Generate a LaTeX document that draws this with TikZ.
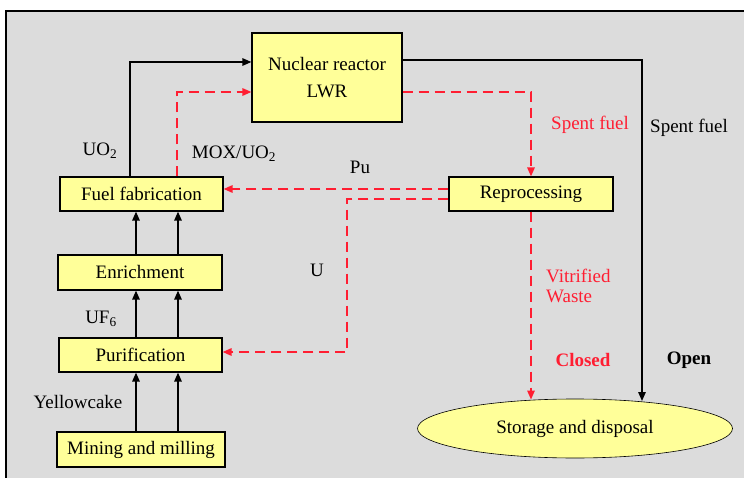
\documentclass[tikz,border=0pt]{standalone}
\usepackage{fontspec}
\setmainfont{Liberation Serif}
\usetikzlibrary{arrows.meta,shapes.geometric}
\definecolor{bg}{RGB}{220,220,220}
\definecolor{boxy}{RGB}{255,255,153}
\definecolor{rd}{RGB}{255,30,50}
\begin{document}
\begin{tikzpicture}[x=1pt,y=-1pt,
  font=\rmfamily\fontsize{19}{27}\selectfont,
  box/.style={draw=black,line width=1.2pt,fill=boxy,inner sep=0pt,align=center},
  tip/.style={-{Triangle[length=9pt,width=7.5pt]}},
  blk/.style={draw=black,line width=1.4pt,tip},
  rdd/.style={draw=rd,line width=1.5pt,dash pattern=on 10pt off 6pt,tip},
  lbl/.style={inner sep=0pt}]
\useasboundingbox (0,0) rectangle (744,478);
\fill[white] (0,0) rectangle (744,478);
\fill[bg] (6,11) rectangle (744,478);
\draw[line width=2.5pt] (6,478) -- (6,11) -- (744,11);

% boxes
\node[box,minimum width=150pt,minimum height=89pt] (reactor) at (327,77.5) {Nuclear reactor\\LWR};
\node[box,minimum width=163pt,minimum height=34pt] (fuelfab) at (141.5,194) {Fuel fabrication};
\node[box,minimum width=164pt,minimum height=35pt] (enrich) at (140,272.5) {Enrichment};
\node[box,minimum width=163pt,minimum height=34pt] (purif) at (140.5,355) {Purification};
\node[box,minimum width=168pt,minimum height=35pt] (mining) at (141,449.5) {Mining and milling};
\node[box,minimum width=164pt,minimum height=34pt] (reproc) at (531,194) {Reprocessing};
\node[draw=black,line width=0.6pt,fill=boxy,ellipse,inner sep=0pt,minimum width=315pt,minimum height=59pt] (store) at (575,428.5) {Storage and disposal};

% helper coordinates
\coordinate (a1) at (130,62);
\coordinate (a2) at (177,92);
\coordinate (b1) at (642,60);
\coordinate (b2) at (642,401);
\coordinate (c2) at (531,399.5);
\coordinate (pu) at (0,189);
\coordinate (u1) at (347,199);
\coordinate (u2) at (0,352);
\coordinate (l1) at (136,0);
\coordinate (l2) at (178,0);

% connectors
\draw[blk] (fuelfab.north -| a1) |- (reactor.west |- a1);
\draw[rdd] (fuelfab.north -| a2) |- (reactor.west |- a2);
\draw[blk] (reactor.east |- b1) -| (b2);
\draw[rdd] (reactor.east |- a2) -| (reproc.north);
\draw[rdd] (reproc.south) -- (c2);
\draw[rdd] (reproc.west |- pu) -- (fuelfab.east |- pu);
\draw[rdd] (reproc.west |- u1) -| (u1 |- u2) -- (purif.east |- u2);
\foreach \l in {l1,l2}{
  \draw[blk] (enrich.north -| \l) -- (fuelfab.south -| \l);
  \draw[blk] (purif.north -| \l) -- (enrich.south -| \l);
  \draw[blk] (mining.north -| \l) -- (purif.south -| \l);
}

% labels
\node[lbl] (tuo2) at (100,151) {UO\textsubscript{2}};
\node[lbl] (tmox) at (234,154) {MOX/UO\textsubscript{2}};
\node[lbl] (tuf6) at (101,319) {UF\textsubscript{6}};
\node[lbl] (tyel) at (78,402) {Yellowcake};
\node[lbl] (tpu) at (360,167) {Pu};
\node[lbl] (tu) at (317,270) {U};
\node[lbl,text=rd] (tsf1) at (590,125) {Spent fuel};
\node[lbl] (tsf2) at (689,128) {Spent fuel};
\node[lbl,text=rd,align=left,anchor=west,font=\rmfamily\fontsize{19}{20}\selectfont] (tvit) at (546,286) {Vitrified\\Waste};
\node[lbl,text=rd,font=\rmfamily\fontsize{19}{23}\selectfont\bfseries] (tclo) at (583,360) {Closed};
\node[lbl,font=\rmfamily\fontsize{19}{23}\selectfont\bfseries] (topen) at (689,360) {Open};
\end{tikzpicture}
\end{document}
